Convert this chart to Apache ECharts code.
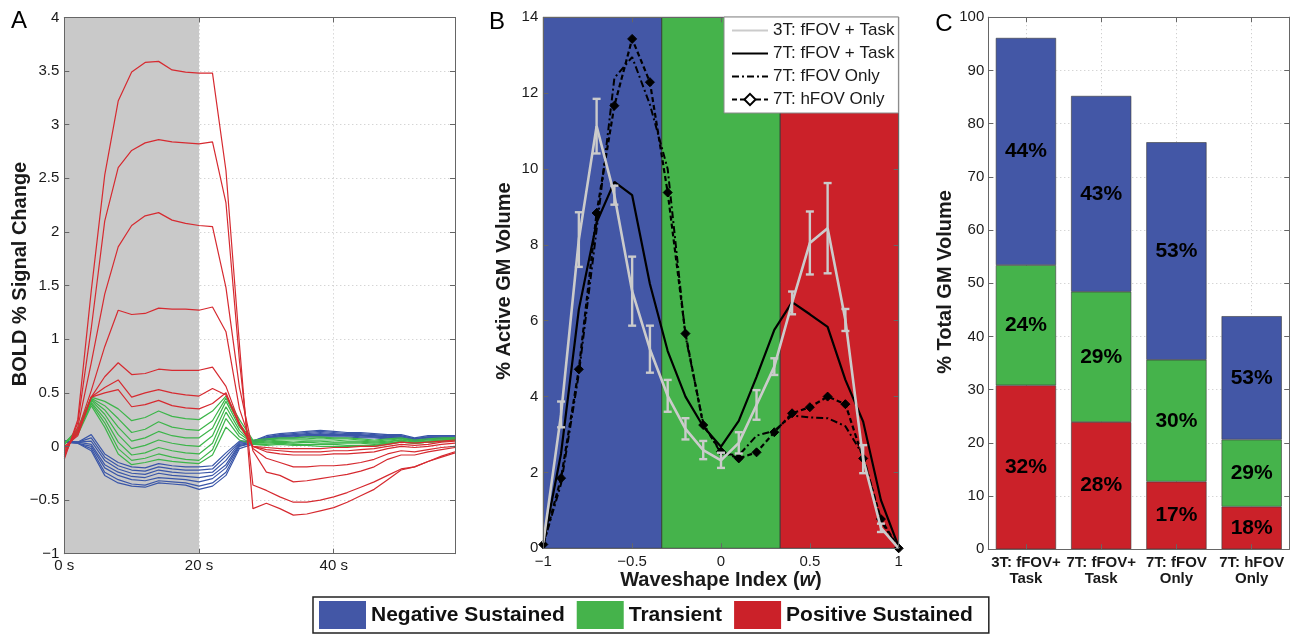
<!DOCTYPE html>
<html>
<head>
<meta charset="utf-8">
<script src="https://cdn.jsdelivr.net/npm/echarts@6/dist/echarts.min.js"></script>
<style>
  html, body { margin: 0; padding: 0; background: #fff; }
  #chart { width: 1295px; height: 634px; }
</style>
</head>
<body>
<div id="chart"></div>
<script>
// ---------- Panel A: BOLD time courses (TR = 2 s) ----------
const timeSec = [0,2,4,6,8,10,12,14,16,18,20,22,24,26,28,30,32,34,36,38,40,42,44,46,48,50,52,54,56,58];

const posSustainedCurves = [
  [-0.12,0.25,1.45,2.53,3.22,3.49,3.58,3.59,3.51,3.49,3.48,3.48,2.57,0.95,-0.58,-0.53,-0.58,-0.64,-0.63,-0.60,-0.57,-0.52,-0.46,-0.40,-0.31,-0.22,-0.19,-0.14,-0.09,-0.05],
  [-0.10,0.22,1.10,2.10,2.60,2.76,2.83,2.86,2.84,2.83,2.82,2.84,2.27,0.80,-0.36,-0.41,-0.47,-0.52,-0.52,-0.50,-0.47,-0.43,-0.38,-0.33,-0.27,-0.21,-0.19,-0.14,-0.10,-0.06],
  [-0.08,0.18,0.78,1.42,1.86,2.06,2.15,2.18,2.11,2.08,2.06,2.05,1.48,0.55,-0.04,-0.24,-0.27,-0.33,-0.32,-0.30,-0.28,-0.26,-0.23,-0.19,-0.12,-0.08,-0.08,-0.05,-0.03,-0.01],
  [-0.06,0.15,0.52,0.93,1.27,1.23,1.24,1.29,1.28,1.28,1.27,1.30,1.07,0.35,-0.02,-0.11,-0.15,-0.19,-0.19,-0.18,-0.18,-0.17,-0.15,-0.12,-0.07,-0.04,-0.05,-0.03,-0.01,0.00],
  [-0.04,0.13,0.46,0.65,0.78,0.67,0.68,0.72,0.71,0.71,0.71,0.74,0.56,0.22,0.00,-0.05,-0.07,-0.08,-0.08,-0.08,-0.07,-0.07,-0.06,-0.05,-0.02,0.00,-0.01,0.00,0.02,0.03],
  [-0.02,0.12,0.46,0.55,0.62,0.46,0.50,0.53,0.50,0.48,0.47,0.54,0.48,0.20,0.00,-0.03,-0.04,-0.05,-0.05,-0.05,-0.04,-0.04,-0.03,-0.02,0.00,0.02,0.01,0.02,0.04,0.05],
  [0.00,0.10,0.46,0.50,0.53,0.37,0.39,0.43,0.38,0.36,0.35,0.40,0.50,0.20,0.00,-0.01,-0.02,-0.02,-0.02,-0.02,-0.01,-0.01,0.00,0.00,0.02,0.04,0.03,0.04,0.05,0.06]
];

const transientCurves = [
  [0.02,0.17,0.46,0.42,0.35,0.24,0.27,0.33,0.28,0.26,0.25,0.33,0.47,0.25,0.06,0.07,0.08,0.08,0.09,0.09,0.08,0.08,0.07,0.06,0.07,0.08,0.06,0.07,0.08,0.08],
  [0.02,0.16,0.45,0.38,0.26,0.13,0.16,0.23,0.18,0.16,0.15,0.24,0.45,0.21,0.05,0.06,0.07,0.07,0.07,0.08,0.07,0.07,0.06,0.05,0.06,0.07,0.05,0.06,0.07,0.08],
  [0.03,0.15,0.44,0.34,0.18,0.05,0.08,0.14,0.10,0.08,0.08,0.17,0.42,0.18,0.04,0.05,0.06,0.06,0.06,0.06,0.06,0.05,0.05,0.04,0.05,0.06,0.04,0.05,0.06,0.07],
  [0.03,0.14,0.43,0.30,0.11,-0.02,0.01,0.06,0.03,0.01,0.00,0.10,0.37,0.15,0.03,0.04,0.05,0.04,0.05,0.05,0.04,0.04,0.04,0.03,0.04,0.06,0.04,0.05,0.06,0.07],
  [0.03,0.13,0.41,0.26,0.04,-0.08,-0.06,-0.01,-0.04,-0.06,-0.07,0.03,0.32,0.12,0.03,0.03,0.04,0.03,0.04,0.03,0.03,0.03,0.03,0.02,0.03,0.05,0.03,0.04,0.05,0.06],
  [0.03,0.12,0.40,0.22,-0.02,-0.13,-0.11,-0.07,-0.10,-0.12,-0.13,-0.03,0.26,0.09,0.02,0.02,0.03,0.02,0.02,0.02,0.02,0.01,0.01,0.01,0.03,0.04,0.03,0.04,0.05,0.06],
  [0.04,0.11,0.38,0.18,-0.07,-0.17,-0.15,-0.12,-0.14,-0.15,-0.16,-0.08,0.18,0.06,0.02,0.01,0.02,0.01,0.01,0.00,0.00,0.00,0.00,0.00,0.02,0.04,0.03,0.04,0.05,0.06]
];

const negSustainedCurves = [
  [0.05,0.04,0.11,-0.07,-0.15,-0.19,-0.20,-0.16,-0.18,-0.19,-0.19,-0.18,-0.06,0.05,0.05,0.10,0.12,0.13,0.14,0.15,0.14,0.13,0.13,0.12,0.11,0.11,0.08,0.10,0.10,0.10],
  [0.05,0.04,0.08,-0.10,-0.18,-0.22,-0.23,-0.19,-0.21,-0.22,-0.22,-0.21,-0.09,0.04,0.05,0.09,0.11,0.12,0.13,0.14,0.13,0.12,0.12,0.11,0.10,0.10,0.07,0.09,0.09,0.09],
  [0.05,0.04,0.05,-0.13,-0.21,-0.25,-0.26,-0.22,-0.24,-0.25,-0.25,-0.24,-0.13,0.03,0.04,0.08,0.10,0.11,0.12,0.13,0.12,0.11,0.11,0.10,0.09,0.10,0.07,0.09,0.09,0.09],
  [0.05,0.04,0.02,-0.17,-0.24,-0.28,-0.29,-0.25,-0.27,-0.28,-0.29,-0.27,-0.17,0.02,0.04,0.08,0.10,0.10,0.11,0.12,0.11,0.11,0.10,0.10,0.09,0.09,0.06,0.08,0.08,0.08],
  [0.05,0.03,0.00,-0.20,-0.27,-0.31,-0.32,-0.29,-0.30,-0.31,-0.33,-0.30,-0.20,0.01,0.03,0.07,0.09,0.10,0.11,0.11,0.11,0.10,0.10,0.09,0.08,0.09,0.06,0.08,0.08,0.08],
  [0.04,0.03,-0.02,-0.24,-0.31,-0.35,-0.36,-0.32,-0.33,-0.34,-0.37,-0.34,-0.24,0.00,0.03,0.07,0.09,0.09,0.10,0.10,0.10,0.10,0.09,0.09,0.08,0.08,0.05,0.07,0.08,0.08],
  [0.04,0.03,-0.04,-0.27,-0.34,-0.37,-0.38,-0.34,-0.35,-0.36,-0.40,-0.37,-0.27,-0.02,0.02,0.06,0.08,0.08,0.09,0.09,0.09,0.09,0.08,0.08,0.07,0.08,0.05,0.07,0.07,0.07]
];

// ---------- Panel B: % active GM volume vs waveshape index ----------
const waveIndex   = [-1,-0.9,-0.8,-0.7,-0.6,-0.5,-0.4,-0.3,-0.2,-0.1,0,0.1,0.2,0.3,0.4,0.5,0.6,0.7,0.8,0.9,1];
const vol3TTask   = [0.15,3.53,8.14,11.13,9.31,6.78,5.25,4.02,3.15,2.59,2.32,2.78,3.78,4.79,6.47,8.05,8.44,6.02,2.35,0.54,0.00];
const err3TTask   = [0,0.34,0.72,0.72,0.25,0.91,0.62,0.42,0.28,0.24,0.20,0.28,0.39,0.22,0.30,0.83,1.19,0.29,0.37,0.11,0];
const vol7TTask   = [0.10,2.50,6.30,8.59,9.66,9.31,6.97,5.20,4.00,3.21,2.68,3.36,4.52,5.76,6.49,6.17,5.84,4.44,3.34,1.27,0.04];
const vol7TfOnly  = [0.10,1.70,4.60,8.40,12.40,12.95,11.70,10.00,5.60,3.30,2.50,2.45,2.97,3.10,3.50,3.45,3.43,3.22,2.45,0.72,0.00];
const vol7ThOnly  = [0.10,1.85,4.72,8.84,11.67,13.43,12.29,9.38,5.66,3.25,2.55,2.37,2.53,3.06,3.56,3.72,4.00,3.80,2.37,0.77,0.00];
const bandEdges   = [-1, -1/3, 1/3, 1];

// ---------- Panel C: % total GM volume per acquisition ----------
const acqNames    = ['3T: fFOV+\nTask', '7T: fFOV+\nTask', '7T: fFOV\nOnly', '7T: hFOV\nOnly'];
const posVolume   = [30.8, 23.9, 12.7, 8.0];
const transVolume = [22.6, 24.5, 22.9, 12.6];
const negVolume   = [42.7, 36.8, 40.9, 23.2];

// ---------- styling ----------
const FONT = '"Liberation Sans", Arial, Helvetica, sans-serif';
const BLUE = '#4357a6', GREEN = '#45b34b', RED = '#cb2129';
const LINE_BLUE = '#3a56a8', LINE_GREEN = '#3db54a', LINE_RED = '#d62a30';
const FRAME = '#666';
const TXT = '#1a1a1a';
const minus = v => String(v).replace('-', '\u2212');

const grids = [
  { left: 64.3, top: 17.4, width: 390.7, height: 536.3 },
  { left: 543.3, top: 17.3, width: 355.4, height: 531 },
  { left: 988.3, top: 17.2, width: 301, height: 532 }
].map(g => Object.assign({ containLabel: false, outerBoundsMode: 'none', show: false }, g));

function frameAxis(gridIndex, position, base, labelOpt) {
  return Object.assign({
    gridIndex, position, z: 10,
    axisLine: { show: true, onZero: false, lineStyle: { color: FRAME, width: 1 } },
    axisTick: { show: true, inside: true, length: 5, lineStyle: { color: FRAME, width: 1 } },
    axisLabel: labelOpt ? Object.assign({ color: TXT, fontSize: 15, fontFamily: FONT }, labelOpt) : { show: false },
    splitLine: { show: false }
  }, base);
}
function gridLineAxis(gridIndex, position, base, extraSplit) {
  return Object.assign({
    gridIndex, position, z: 0,
    axisLine: { show: false }, axisTick: { show: false }, axisLabel: { show: false },
    splitLine: Object.assign({ show: true, lineStyle: { type: [1, 3], color: '#c4c4c4', width: 1 } }, extraSplit || {})
  }, base);
}

const axA_x = { type: 'value', min: 0, max: 58, interval: 20 };
const axA_y = { type: 'value', min: -1, max: 4, interval: 0.5 };
const axB_x = { type: 'value', min: -1, max: 1, interval: 0.5 };
const axB_y = { type: 'value', min: 0, max: 14, interval: 2 };
const axC_x = { type: 'category', data: acqNames, boundaryGap: true };
const axC_y = { type: 'value', min: 0, max: 100, interval: 10 };

const xAxis = [
  frameAxis(0, 'bottom', axA_x, { margin: 5, formatter: v => (v % 20 === 0 ? v + ' s' : '') }),
  frameAxis(0, 'top', axA_x),
  gridLineAxis(0, 'bottom', axA_x),
  frameAxis(1, 'bottom', axB_x, { margin: 6, formatter: minus }),
  frameAxis(1, 'top', axB_x),
  frameAxis(2, 'bottom', Object.assign({}, axC_x), { margin: 6, fontSize: 15, fontWeight: 'bold', lineHeight: 16, interval: 0 }),
  frameAxis(2, 'top', Object.assign({}, axC_x)),
  gridLineAxis(2, 'bottom', Object.assign({}, axC_x), { alignWithLabel: true })
];
xAxis[5].axisTick.alignWithLabel = true;
xAxis[6].axisTick.alignWithLabel = true;

const yAxis = [
  frameAxis(0, 'left', axA_y, { margin: 5, formatter: minus }),
  frameAxis(0, 'right', axA_y),
  gridLineAxis(0, 'left', axA_y),
  frameAxis(1, 'left', axB_y, { margin: 5 }),
  frameAxis(1, 'right', axB_y),
  frameAxis(2, 'left', axC_y, { margin: 4 }),
  frameAxis(2, 'right', axC_y),
  gridLineAxis(2, 'left', axC_y)
];

const series = [];

// Panel A: stimulus period shading, then the response curves
function addCurves(curves, color, withShade) {
  curves.forEach((vals, k) => {
    const s = {
      type: 'line', xAxisIndex: 0, yAxisIndex: 0, silent: true,
      data: timeSec.map((t, i) => [t, vals[i]]),
      symbol: 'none', showSymbol: false,
      lineStyle: { color, width: 1.2 }, itemStyle: { color },
      z: 3
    };
    if (withShade && k === 0) {
      s.markArea = {
        silent: true,
        itemStyle: { color: '#c9c9c9', opacity: 1 },
        data: [[{ xAxis: 0 }, { xAxis: 20 }]]
      };
    }
    series.push(s);
  });
}
addCurves(negSustainedCurves, LINE_BLUE, true);
addCurves(transientCurves, LINE_GREEN, false);
addCurves(posSustainedCurves, LINE_RED, false);

// Panel B
const pairs = arr => waveIndex.map((w, i) => [w, arr[i]]);
const bandColors = [BLUE, GREEN, RED];
series.push({
  name: '7T: fFOV Only', type: 'line', xAxisIndex: 3, yAxisIndex: 3, silent: true,
  data: pairs(vol7TfOnly), symbol: 'none',
  lineStyle: { color: '#000', width: 2, type: [7, 3, 2, 3] }, itemStyle: { color: '#000' }, z: 3,
  markArea: {
    silent: true,
    itemStyle: { opacity: 1, borderColor: '#333', borderWidth: 0.8 },
    data: bandColors.map((c, i) => [{ xAxis: bandEdges[i], itemStyle: { color: c } }, { xAxis: bandEdges[i + 1] }])
  }
});
series.push({
  name: '7T: hFOV Only', type: 'line', xAxisIndex: 3, yAxisIndex: 3, silent: true,
  data: pairs(vol7ThOnly), symbol: 'diamond', symbolSize: 9, showSymbol: true,
  lineStyle: { color: '#000', width: 2.2, type: [5, 3] },
  itemStyle: { color: '#000', borderColor: '#000', borderWidth: 1 }, z: 4
});
series.push({
  name: '7T: fFOV + Task', type: 'line', xAxisIndex: 3, yAxisIndex: 3, silent: true,
  data: pairs(vol7TTask), symbol: 'none',
  lineStyle: { color: '#000', width: 2.2 }, itemStyle: { color: '#000' }, z: 5
});
series.push({
  name: '3T: fFOV + Task', type: 'line', xAxisIndex: 3, yAxisIndex: 3, silent: true,
  data: pairs(vol3TTask), symbol: 'none',
  lineStyle: { color: '#cbcbcb', width: 2.6 }, itemStyle: { color: '#cbcbcb' }, z: 6
});
series.push({
  type: 'custom', xAxisIndex: 3, yAxisIndex: 3, silent: true, z: 7,
  data: waveIndex.map((w, i) => [w, vol3TTask[i] - err3TTask[i], vol3TTask[i] + err3TTask[i]])
                 .filter((d, i) => err3TTask[i] > 0),
  encode: { x: 0, y: [1, 2] },
  renderItem: (params, api) => {
    const x = api.value(0);
    const lo = api.coord([x, api.value(1)]);
    const hi = api.coord([x, api.value(2)]);
    const cap = 4;
    const st = { stroke: '#cbcbcb', lineWidth: 2.4 };
    return {
      type: 'group',
      children: [
        { type: 'line', shape: { x1: lo[0], y1: lo[1], x2: hi[0], y2: hi[1] }, style: st },
        { type: 'line', shape: { x1: lo[0] - cap, y1: lo[1], x2: lo[0] + cap, y2: lo[1] }, style: st },
        { type: 'line', shape: { x1: hi[0] - cap, y1: hi[1], x2: hi[0] + cap, y2: hi[1] }, style: st }
      ]
    };
  }
});

// Panel C: stacked bars, labelled with each class's share of the bar total
const totals = posVolume.map((v, i) => v + transVolume[i] + negVolume[i]);
const shareLabel = {
  show: true, position: 'inside', color: '#000', fontSize: 21, fontWeight: 'bold', fontFamily: FONT,
  formatter: p => Math.round(p.value / totals[p.dataIndex] * 100) + '%'
};
[['Positive Sustained', posVolume, RED], ['Transient', transVolume, GREEN], ['Negative Sustained', negVolume, BLUE]]
  .forEach(([name, vals, color]) => {
    series.push({
      name, type: 'bar', stack: 'total', xAxisIndex: 5, yAxisIndex: 5, silent: true,
      data: vals, barWidth: '80%',
      itemStyle: { color, borderColor: '#3a3a3a', borderWidth: 0.6 },
      label: shareLabel, z: 3
    });
  });

const titleFont = { fontSize: 20, fontWeight: 'bold', fontFamily: FONT, fill: TXT, align: 'center', verticalAlign: 'middle' };
const graphic = [
  { type: 'text', x: 19, y: 21, style: { text: 'A', fontSize: 24, fontFamily: FONT, fill: '#000', align: 'center', verticalAlign: 'middle' } },
  { type: 'text', x: 497, y: 22, style: { text: 'B', fontSize: 24, fontFamily: FONT, fill: '#000', align: 'center', verticalAlign: 'middle' } },
  { type: 'text', x: 944, y: 24, style: { text: 'C', fontSize: 24, fontFamily: FONT, fill: '#000', align: 'center', verticalAlign: 'middle' } },
  { type: 'text', x: 20, y: 274, rotation: Math.PI / 2, style: Object.assign({ text: 'BOLD % Signal Change' }, titleFont) },
  { type: 'text', x: 504, y: 281, rotation: Math.PI / 2, style: Object.assign({ text: '% Active GM Volume' }, titleFont) },
  { type: 'text', x: 945, y: 282, rotation: Math.PI / 2, style: Object.assign({ text: '% Total GM Volume' }, titleFont) },
  { type: 'text', x: 721, y: 580, style: Object.assign({
      text: 'Waveshape Index ({i|w})',
      rich: { i: { fontStyle: 'italic', fontWeight: 'bold', fontSize: 20, fontFamily: FONT, fill: TXT } }
    }, titleFont) }
];

// line-only entries: hide the default marker in the legend swatch
const noMarker = { color: 'rgba(0,0,0,0)', borderWidth: 0, opacity: 0 };
const legend = [
  {
    data: [
      { name: '3T: fFOV + Task', itemStyle: noMarker },
      { name: '7T: fFOV + Task', itemStyle: noMarker },
      { name: '7T: fFOV Only', itemStyle: noMarker },
      { name: '7T: hFOV Only', itemStyle: { color: '#fff', borderColor: '#000', borderWidth: 2 } }
    ],
    orient: 'vertical', left: 724, top: 17, z: 20,
    backgroundColor: '#fff', borderColor: '#8a8a8a', borderWidth: 1, borderRadius: 0,
    padding: [5, 4, 5, 7], itemWidth: 36, itemHeight: 14, itemGap: 6,
    selectedMode: false,
    textStyle: { fontSize: 17, color: TXT, fontFamily: FONT }
  },
  {
    data: ['Negative Sustained', 'Transient', 'Positive Sustained'],
    orient: 'horizontal', left: 313, top: 597, z: 20,
    icon: 'rect', itemWidth: 47, itemHeight: 28, itemGap: 12,
    itemStyle: { borderWidth: 0 },
    backgroundColor: '#fff', borderColor: '#222', borderWidth: 1.5, borderRadius: 0,
    padding: [4, 16, 4, 6], selectedMode: false,
    textStyle: { fontSize: 21, fontWeight: 'bold', color: '#111', fontFamily: FONT }
  }
];

const chart = echarts.init(document.getElementById('chart'), null, { renderer: 'canvas' });
chart.setOption({
  animation: false,
  backgroundColor: '#fff',
  textStyle: { fontFamily: FONT },
  grid: grids,
  xAxis, yAxis, series, legend, graphic,
  tooltip: { show: false }
});
</script>
</body>
</html>
